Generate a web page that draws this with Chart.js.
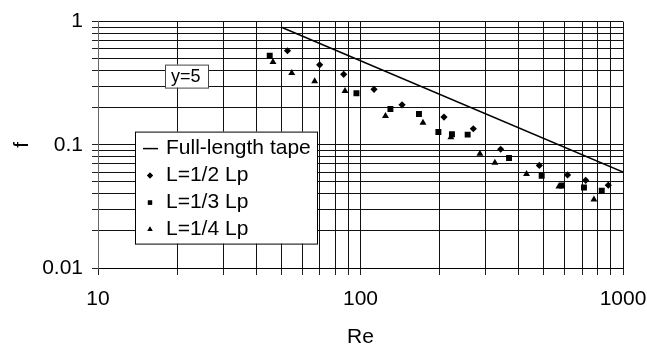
<!DOCTYPE html>
<html>
<head>
<meta charset="utf-8">
<script src="https://cdn.jsdelivr.net/npm/chart.js@4/dist/chart.umd.min.js"></script>
<style>
   html, body { margin: 0; padding: 0; background: #fff; }
   #wrap { width: 647px; height: 348px; }
</style>
</head>
<body>
<div id="wrap"><canvas id="frictionChart" width="647" height="348"></canvas></div>
<script>
// full-length tape correlation line (end points)
const tapeRe = [50, 1000];
const tapeF = [0.9, 0.06];

// L = 1/2 Lp
const halfRe = [52.7, 69.9, 86.3, 112.6, 144, 208, 269, 342, 480, 615, 721, 879];
const halfF = [0.58, 0.446, 0.373, 0.282, 0.211, 0.168, 0.135, 0.092, 0.068, 0.057, 0.0515, 0.047];

// L = 1/3 Lp
const thirdRe = [45.1, 96.5, 130, 167, 198, 223, 256, 368, 490, 586, 710, 830];
const thirdF = [0.529, 0.262, 0.195, 0.178, 0.127, 0.122, 0.121, 0.078, 0.056, 0.0467, 0.045, 0.0424];

// L = 1/4 Lp
const quarterRe = [46.4, 54.7, 66.9, 87.3, 124.5, 173, 221, 285, 325, 429, 570, 775];
const quarterF = [0.469, 0.383, 0.328, 0.273, 0.171, 0.151, 0.115, 0.0845, 0.0716, 0.058, 0.0459, 0.0359];

const xDecades = [10, 100, 1000];
const yDecades = [0.01, 0.1, 1];
const legendLabels = ["Full-length tape", "L=1/2 Lp", "L=1/3 Lp", "L=1/4 Lp"];
const noteLabel = "y=5";

const FONT = "'Liberation Sans', Arial, sans-serif";
Chart.defaults.font.family = FONT;
Chart.defaults.color = "#000";

function toPoints(xs, ys) {
   return xs.map((x, i) => ({ x, y: ys[i] }));
}

// ticks at 1..9 x each decade, labels only on the decades
function logTicks(decades) {
   const values = [];
   decades.forEach((d, i) => {
      if (i === decades.length - 1) {
         values.push(d);
         return;
      }
      for (let m = 1; m < 10; m++) values.push(+(d * m).toPrecision(6));
   });
   return values.map((value) => ({ value, major: decades.includes(value) }));
}

const overlayPlugin = {
   id: "overlay",
   afterDraw(chart) {
      const ctx = chart.ctx;
      const area = chart.chartArea;
      ctx.save();

      // "y=5" note
      const nx = area.left + 67, ny = area.top + 43;
      ctx.fillStyle = "#fff";
      ctx.fillRect(nx, ny, 43, 23);
      ctx.strokeStyle = "#444";
      ctx.lineWidth = 1;
      ctx.strokeRect(nx + 0.5, ny + 0.5, 43, 23);
      ctx.fillStyle = "#000";
      ctx.font = "18px " + FONT;
      ctx.textBaseline = "middle";
      ctx.textAlign = "left";
      ctx.fillText(noteLabel, nx + 6, ny + 12);

      // legend box
      const lx = area.left + 37, ly = area.top + 110;
      const lw = 182, lh = 112;
      ctx.fillStyle = "#fff";
      ctx.fillRect(lx, ly, lw, lh);
      ctx.strokeStyle = "#000";
      ctx.strokeRect(lx + 0.5, ly + 0.5, lw, lh);

      ctx.font = "21px " + FONT;
      ctx.fillStyle = "#000";
      legendLabels.forEach((label, i) => {
         const cy = ly + 17 + i * 27;
         const sx = lx + 15;
         if (i === 0) {
            ctx.beginPath();
            ctx.lineWidth = 1.5;
            ctx.moveTo(sx - 7, cy);
            ctx.lineTo(sx + 8, cy);
            ctx.stroke();
         } else {
            const style = ["rectRot", "rect", "triangle"][i - 1];
            Chart.helpers.drawPoint(ctx, { pointStyle: style, radius: 3, borderWidth: 0 }, sx, cy);
            ctx.fill();
         }
         ctx.fillText(label, lx + 31, cy);
      });
      ctx.restore();
   }
};

const markerBase = {
   type: "scatter",
   backgroundColor: "#000",
   borderColor: "#000",
   borderWidth: 0,
   pointHoverRadius: 4
};

new Chart(document.getElementById("frictionChart"), {
   type: "scatter",
   data: {
      datasets: [
         {
            type: "line",
            label: legendLabels[0],
            data: toPoints(tapeRe, tapeF),
            borderColor: "#000",
            borderWidth: 1.5,
            pointRadius: 0,
            fill: false
         },
         { ...markerBase, label: legendLabels[1], data: toPoints(halfRe, halfF), pointStyle: "rectRot", pointRadius: 3.6 },
         { ...markerBase, label: legendLabels[2], data: toPoints(thirdRe, thirdF), pointStyle: "rect", pointRadius: 4.2 },
         { ...markerBase, label: legendLabels[3], data: toPoints(quarterRe, quarterF), pointStyle: "triangle", pointRadius: 4 }
      ]
   },
   options: {
      responsive: false,
      animation: false,
      layout: { padding: { top: 17, right: 24, left: 0, bottom: 0 } },
      plugins: {
         legend: { display: false },
         tooltip: { enabled: false }
      },
      scales: {
         x: {
            type: "logarithmic",
            min: 10,
            max: 1000,
            afterBuildTicks(scale) { scale.ticks = logTicks(xDecades); },
            afterFit(scale) {
               scale.height = 80;
               scale.paddingLeft = 0;
               scale.paddingRight = 0;
            },
            grid: { color: "#111", lineWidth: 1, tickLength: 7, tickColor: "#222" },
            border: { color: "#000", width: 1 },
            ticks: {
               autoSkip: false,
               maxRotation: 0,
               padding: 12,
               font: { size: 21 },
               callback(value) { return xDecades.includes(value) ? String(value) : ""; }
            },
            title: { display: true, text: "Re", font: { size: 21 }, padding: { top: 0, bottom: -2 } }
         },
         y: {
            type: "logarithmic",
            min: 0.01,
            max: 1,
            afterBuildTicks(scale) { scale.ticks = logTicks(yDecades); },
            afterFit(scale) { scale.width = 98; },
            grid: { color: "#111", lineWidth: 1, tickLength: 6, tickColor: "#222" },
            border: { color: "#666", width: 1 },
            ticks: {
               autoSkip: false,
               padding: 9,
               font: { size: 21 },
               callback(value) { return yDecades.includes(value) ? String(value) : ""; }
            },
            title: { display: true, text: "f", font: { size: 21 }, padding: { top: 10, bottom: 0 } }
         }
      }
   },
   plugins: [overlayPlugin]
});
</script>
</body>
</html>
